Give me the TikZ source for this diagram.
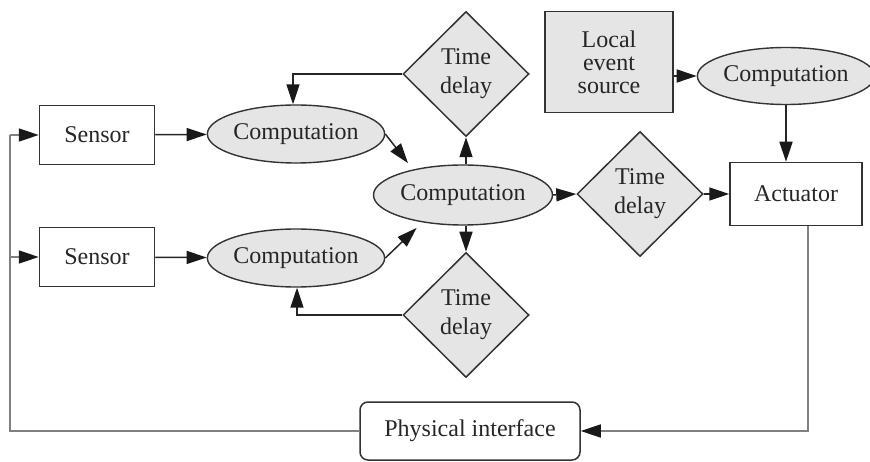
\documentclass[tikz,border=0pt]{standalone}
\usepackage{fontspec}
\setmainfont{Liberation Serif}
\usetikzlibrary{shapes.geometric,arrows.meta}
\begin{document}
\begin{tikzpicture}[x=1pt,y=-1pt,
  txt/.style={font=\fontsize{24}{28}\selectfont, text=black!85},
  box/.style={txt, draw=black!80, line width=1.5pt, minimum width=115pt, minimum height=59pt, inner sep=0},
  comp/.style={txt, ellipse, draw=black!80, fill=black!10, line width=1.4pt, inner sep=0, minimum width=177pt, minimum height=58pt},
  delay/.style={txt, diamond, draw=black!80, fill=black!10, line width=1.5pt, inner sep=0, minimum width=126pt, minimum height=125pt, align=center, font=\fontsize{24}{29}\selectfont},
  tip/.style={-{Triangle[length=20pt,width=13pt,color=black!90]}},
  arr/.style={tip, line width=1.5pt, draw=black!85},
  fb/.style={line width=1.6pt, draw=black!50}]
\useasboundingbox (0,0) rectangle (870,462);

% nodes
\node[box] (s1) at (97,135) {Sensor};
\node[box] (s2) at (97,257) {Sensor};
\node[comp] (c1) at (296,134) {Computation};
\node[comp] (c2) at (296,258) {Computation};
\node[comp, minimum width=179pt, minimum height=60pt] (cc) at (463,195) {Computation};
\node[delay] (d1) at (466,74) {Time\\delay};
\node[delay] (d2) at (640,194) {Time\\delay};
\node[delay] (d3) at (466,315) {Time\\delay};
\node[box, fill=black!10, minimum width=128pt, minimum height=101pt, align=center, font=\fontsize{24}{23}\selectfont] (les) at (609,62) {Local\\event\\source};
\node[comp, minimum width=167pt, minimum height=57pt] (c4) at (786,76) {Computation};
\node[box, minimum width=132pt, minimum height=63pt] (act) at (796,194) {Actuator};
\node[box, rounded corners=8pt, minimum width=220pt, minimum height=58pt] (phy) at (470,431) {Physical interface};

\coordinate (lt) at (10,135);
\coordinate (lb) at (10,257);

% signal flow
\draw[arr] (s1) -- (c1);
\draw[arr] (s2) -- (c2);
\draw[arr] (d1.west) -| ([xshift=-3pt]c1.north);
\draw[arr] (d3.west) -| ([xshift=1pt]c2.south);
\draw[arr, shorten >=8pt] (c1.east) -- (cc.153);
\draw[arr, shorten >=8pt] (c2.east) -- (cc.214);
\draw[arr] (d1.south |- cc.north) -- (d1.south);
\draw[arr] (d3.north |- cc.south) -- (d3.north);
\draw[arr] (cc.east) -- (d2.west);
\draw[arr] (d2.east) -- (act.west);
\draw[arr] (les.east |- c4.west) -- (c4.west);
\draw[arr] (c4.south) -- (c4.south |- act.north);

% feedback through the physical interface
\draw[fb, tip] ([xshift=12pt]act.south) |- (phy.east);
\draw[fb] (phy.west) -| (lt);
\draw[fb] (lb) -- (lt);
\draw[fb, tip] (lt) -- (s1.west);
\draw[fb, tip] (lb) -- (s2.west);
\end{tikzpicture}
\end{document}
